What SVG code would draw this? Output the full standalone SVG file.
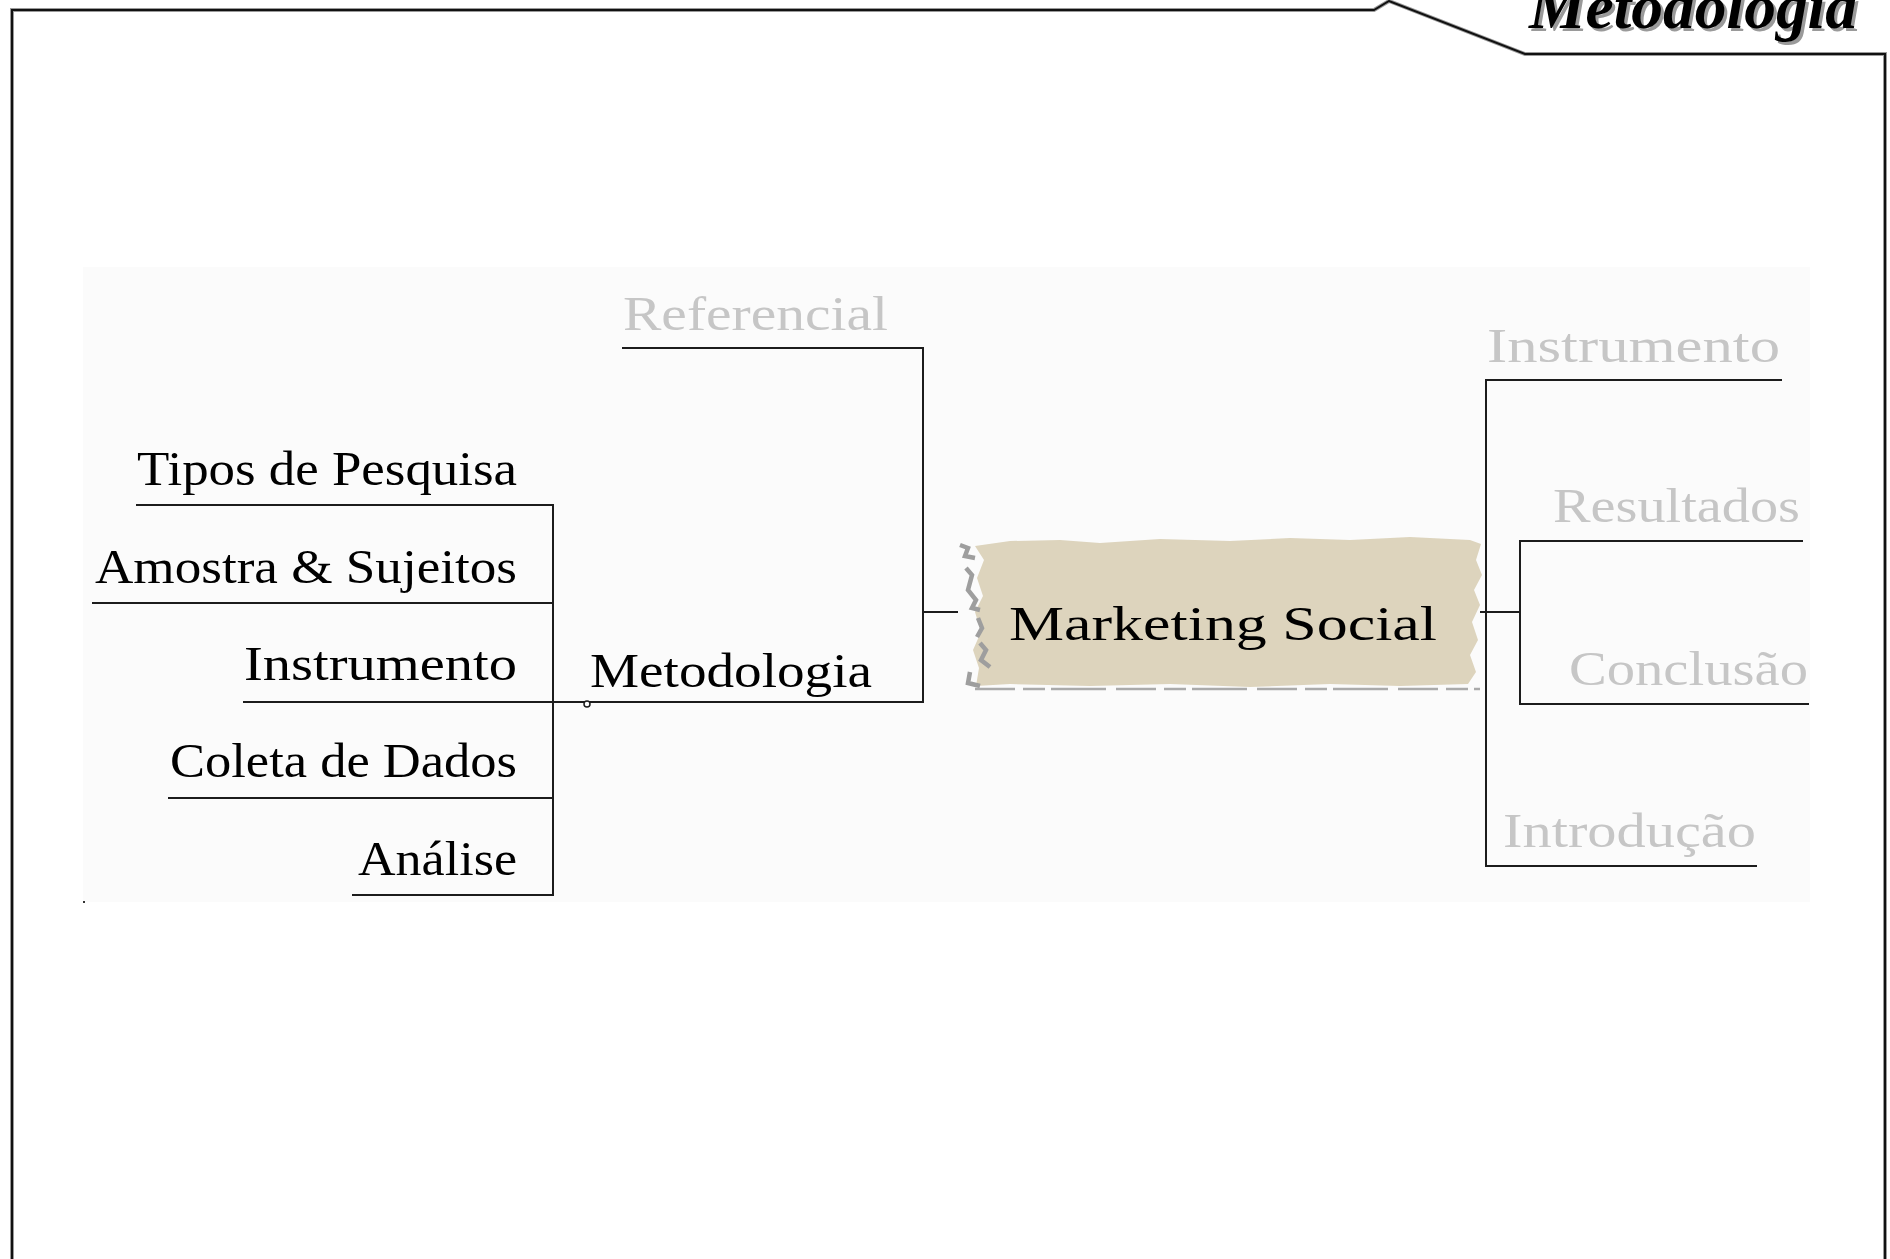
<svg xmlns="http://www.w3.org/2000/svg" width="1890" height="1259" viewBox="0 0 1890 1259">
<defs>
<style>
.ln{fill:none;stroke:#1c1c1c;stroke-width:2;stroke-linecap:square}
.t{font-family:"Liberation Serif","DejaVu Serif",serif;font-size:48px}
.blk{fill:#000}
.gry{fill:#c6c6c6}
.title{font-family:"Liberation Serif","DejaVu Serif",serif;font-style:italic;font-weight:bold;font-size:64px}
</style>
</defs>
<rect x="0" y="0" width="1890" height="1259" fill="#ffffff"/>
<rect x="83" y="267" width="1727" height="635" fill="#fbfbfb"/>
<rect x="83" y="901" width="2" height="2" fill="#333"/>
<path d="M12 1259 L12 10 L1374 10 L1389 1 L1525 54 L1885 54 L1885 1259" fill="none" stroke="#9a9a9a" stroke-width="4"/>
<path d="M12 1259 L12 10 L1374 10 L1389 1 L1525 54 L1885 54 L1885 1259" fill="none" stroke="#111" stroke-width="2"/>
<g id="title">
<text class="title" x="1532" y="31" fill="#9a9a9a" textLength="328" lengthAdjust="spacingAndGlyphs">Metodologia</text>
<text class="title" x="1529" y="28" fill="#000" textLength="328" lengthAdjust="spacingAndGlyphs">Metodologia</text>
</g>
<g id="connectors">
<path class="ln" d="M137 505 H553 M93 603 H553 M244 702 H553 M169 798 H553 M353 895 H553 M553 505 V895"/>
<path class="ln" d="M553 702 H923 V348 H623 M923 612 H957"/>
<circle cx="587" cy="704" r="3" fill="#fff" stroke="#1c1c1c" stroke-width="1.5"/>
<path class="ln" d="M1481 612 H1486 M1486 380 H1781 M1486 380 V866 H1756 M1486 612 H1520 M1520 541 H1802 M1520 541 V704 H1808"/>
</g>
<g id="node-marketing-social">
<path d="M975 546 L1010 541 L1060 540 L1100 543 L1160 539 L1230 541 L1290 538 L1350 540 L1410 537 L1470 540 L1481 544 L1476 560 L1482 575 L1474 590 L1480 605 L1472 622 L1478 640 L1470 655 L1476 672 L1468 684 L1400 686 L1330 684 L1250 687 L1170 684 L1090 686 L1010 684 L976 686 L979 668 L973 650 L981 632 L975 612 L983 596 L977 578 L984 560 Z" fill="#ddd4bd"/>
<path d="M960 545 L968 548 L965 556 L975 558 M966 568 L972 575 L968 590 L976 600 L972 608 L980 610 M978 618 L982 628 L977 637 M980 643 L986 650 L981 660 L990 667 M970 672 L968 683 L980 686" fill="none" stroke="#9e9e9e" stroke-width="4.5"/>
<path d="M975 689 H1480" fill="none" stroke="#aaaaaa" stroke-width="2.5" stroke-dasharray="40 8 22 6 55 10"/>
<text class="t blk" x="1009" y="640" font-size="62" textLength="428" lengthAdjust="spacingAndGlyphs">Marketing Social</text>
</g>
<g id="node-tipos"><text class="t blk" x="137" y="485" font-size="46" textLength="380" lengthAdjust="spacingAndGlyphs">Tipos de Pesquisa</text></g>
<g id="node-amostra"><text class="t blk" x="95" y="583" font-size="46" textLength="422" lengthAdjust="spacingAndGlyphs">Amostra &amp; Sujeitos</text></g>
<g id="node-instrumento-left"><text class="t blk" x="244" y="680" font-size="46" textLength="273" lengthAdjust="spacingAndGlyphs">Instrumento</text></g>
<g id="node-coleta"><text class="t blk" x="170" y="777" font-size="46" textLength="347" lengthAdjust="spacingAndGlyphs">Coleta de Dados</text></g>
<g id="node-analise"><text class="t blk" x="358" y="875" font-size="46" textLength="159" lengthAdjust="spacingAndGlyphs">Análise</text></g>
<g id="node-metodologia"><text class="t blk" x="590" y="687" font-size="50" textLength="282" lengthAdjust="spacingAndGlyphs">Metodologia</text></g>
<g id="node-referencial"><text class="t gry" x="623" y="330" font-size="50" textLength="265" lengthAdjust="spacingAndGlyphs">Referencial</text></g>
<g id="node-instrumento-right"><text class="t gry" x="1487" y="362" font-size="48" textLength="293" lengthAdjust="spacingAndGlyphs">Instrumento</text></g>
<g id="node-resultados"><text class="t gry" x="1553" y="522" font-size="48" textLength="247" lengthAdjust="spacingAndGlyphs">Resultados</text></g>
<g id="node-conclusao"><text class="t gry" x="1569" y="685" font-size="48" textLength="239" lengthAdjust="spacingAndGlyphs">Conclusão</text></g>
<g id="node-introducao"><text class="t gry" x="1503" y="847" font-size="48" textLength="253" lengthAdjust="spacingAndGlyphs">Introdução</text></g>
</svg>
